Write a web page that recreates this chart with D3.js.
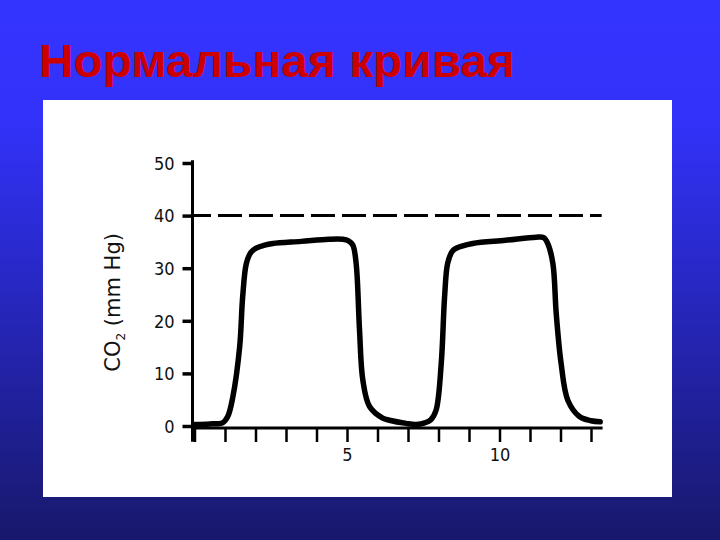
<!DOCTYPE html>
<html>
<head>
<meta charset="utf-8">
<script src="https://cdn.jsdelivr.net/npm/d3@7"></script>
<style>
  html, body { margin: 0; padding: 0; width: 720px; height: 540px; overflow: hidden; }
  svg { display: block; }
</style>
</head>
<body>
<script>
// ---- data ----
const titleText = "Нормальная кривая";
const yLabelMain = "CO";
const yLabelSub = "2";
const yLabelRest = " (mm Hg)";
const yTicks = [0, 10, 20, 30, 40, 50];
const xTicks = [0, 1, 2, 3, 4, 5, 6, 7, 8, 9, 10, 11, 12, 13];
const xTickLabels = [5, 10];
const thresholdValue = 40;
const time = [0, 0.5, 0.92, 1.09, 1.26, 1.48, 1.58, 1.70, 1.85, 2.02, 2.3, 2.57, 3.5, 4.4, 4.86, 5.05, 5.19, 5.30, 5.41, 5.52, 5.74, 6.17, 6.39, 6.94, 7.27, 7.55, 7.75, 7.92, 8.09, 8.20, 8.30, 8.45, 8.58, 9.12, 10.2, 11.20, 11.45, 11.58, 11.75, 11.86, 12.02, 12.24, 12.62, 13.0, 13.3];
const co2  = [0.3, 0.4, 0.6, 1.8, 5.6, 15, 24.6, 30.9, 33.0, 33.8, 34.4, 34.7, 35.1, 35.5, 35.5, 35.2, 34.4, 30.9, 18.3, 8.7, 3.7, 1.5, 1.1, 0.5, 0.3, 0.6, 1.2, 3.0, 11.9, 24.6, 30.9, 33.2, 33.8, 34.7, 35.3, 35.9, 35.8, 34.7, 30.9, 21.4, 11.9, 4.9, 1.8, 1.0, 0.8];

const W = 720, H = 540;
const svg = d3.select("body").append("svg").attr("width", W).attr("height", H);

// background gradient
const defs = svg.append("defs");
const grad = defs.append("linearGradient").attr("id", "bg").attr("x1", 0).attr("y1", 0).attr("x2", 0).attr("y2", 1);
grad.append("stop").attr("offset", "0%").attr("stop-color", "#3434ff");
grad.append("stop").attr("offset", "22%").attr("stop-color", "#3232fa");
grad.append("stop").attr("offset", "60%").attr("stop-color", "#2525b6");
grad.append("stop").attr("offset", "100%").attr("stop-color", "#18186c");
svg.append("rect").attr("width", W).attr("height", H).attr("fill", "url(#bg)");

// title
svg.append("text")
  .attr("x", 39).attr("y", 77)
  .attr("font-family", "Liberation Sans, Arial, sans-serif")
  .attr("font-weight", "bold")
  .attr("font-size", 46)
  .attr("fill", "#cc0000")
  .attr("textLength", 476)
  .attr("lengthAdjust", "spacingAndGlyphs")
  .text(titleText);

// white panel
svg.append("rect").attr("x", 43).attr("y", 100).attr("width", 629).attr("height", 397).attr("fill", "#ffffff");

// scales
const x = d3.scaleLinear().domain([0, 13]).range([194.5, 591]);
const y = d3.scaleLinear().domain([0, 50]).range([426, 163]);

const font = "DejaVu Sans Condensed, DejaVu Sans, sans-serif";

// threshold dashed line
svg.append("line")
  .attr("x1", x(-0.05)).attr("x2", x(13.35))
  .attr("y1", y(thresholdValue)).attr("y2", y(thresholdValue))
  .attr("stroke", "#000").attr("stroke-width", 3)
  .attr("stroke-dasharray", "24 7").attr("stroke-dashoffset", 6);

// y axis
const yAxis = svg.append("g").attr("transform", `translate(${x(0) - 2},0)`)
  .call(d3.axisLeft(y).tickValues(yTicks).tickSize(10).tickPadding(8).tickFormat(d3.format("d")));
yAxis.select(".domain").remove();
yAxis.selectAll(".tick line").attr("stroke", "#000").attr("stroke-width", 3.5);
yAxis.selectAll(".tick text").attr("font-family", font).attr("font-size", 18).attr("fill", "#111").attr("dy", "0.35em");
yAxis.append("line").attr("x1", 0).attr("x2", 0).attr("y1", y(50.5)).attr("y2", y(-3)).attr("stroke", "#000").attr("stroke-width", 3);

// x axis
const xAxis = svg.append("g").attr("transform", `translate(0,${y(0) + 2})`)
  .call(d3.axisBottom(x).tickValues(xTicks).tickSize(14).tickPadding(6)
    .tickFormat(d => xTickLabels.includes(d) ? d : ""));
xAxis.select(".domain").remove();
xAxis.selectAll(".tick line").attr("stroke", "#000").attr("stroke-width", 2.5);
xAxis.selectAll(".tick text").attr("font-family", font).attr("font-size", 18).attr("fill", "#111");
xAxis.append("line").attr("x1", x(0) - 3).attr("x2", x(13.38)).attr("y1", 0).attr("y2", 0).attr("stroke", "#000").attr("stroke-width", 3);

// y label
const yl = svg.append("text")
  .attr("transform", `translate(120,${y(23.5)}) rotate(-90)`)
  .attr("text-anchor", "middle")
  .attr("font-family", "DejaVu Sans, sans-serif")
  .attr("font-size", 21)
  .attr("fill", "#111");
yl.append("tspan").text(yLabelMain);
yl.append("tspan").attr("font-size", 12).attr("dy", 5).text(yLabelSub);
yl.append("tspan").attr("dy", -5).text(yLabelRest);

// curve
const data = time.map((t, i) => ({ t, v: co2[i] }));
const line = d3.line().x(d => x(d.t)).y(d => y(d.v)).curve(d3.curveCatmullRom.alpha(0.5));
svg.append("path").datum(data).attr("d", line)
  .attr("fill", "none").attr("stroke", "#000").attr("stroke-width", 5.5)
  .attr("stroke-linejoin", "round").attr("stroke-linecap", "round");
</script>
</body>
</html>
